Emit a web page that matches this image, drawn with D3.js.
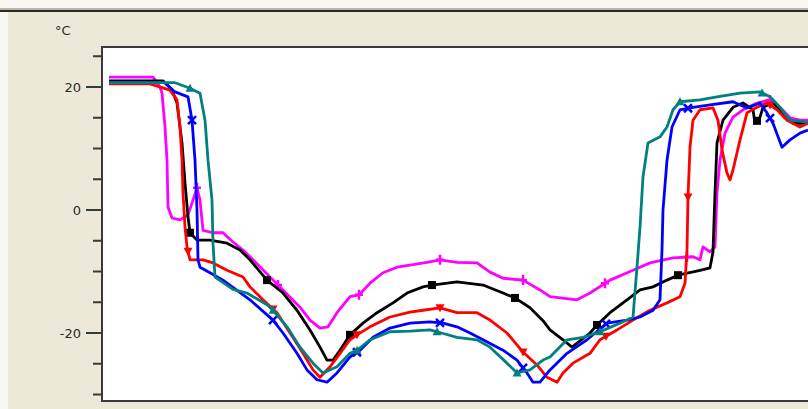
<!DOCTYPE html>
<html>
<head>
<meta charset="utf-8">
<script src="https://cdn.jsdelivr.net/npm/d3@7"></script>
<style>
  body { margin: 0; background: #ece9d8; }
  svg { display: block; }
  .axis text { font-family: Tahoma, "DejaVu Sans", sans-serif; font-size: 13px; fill: #2a2a2a; }
</style>
</head>
<body>
<div id="target"></div>
<script>
// time (arbitrary units) and temperature in °C
const blackT = [7,61,70,75,80,83,86,88,95,108,125,138,148,165,181,195,208,218,225,231,238,248,261,275,291,305,321,330,355,381,401,413,428,441,448,461,470,488,495,508,525,538,551,565,576,598,608,611,613,615,621,631,641,651,653,658,661,671,685,691,706];
const blackV = [21.0,21.0,19.5,17.4,10.9,4.4,-1.1,-3.7,-4.9,-4.9,-5.4,-6.5,-8.1,-11.4,-13.5,-16.3,-19.5,-22.3,-24.4,-24.4,-22.8,-20.3,-18.4,-16.7,-15.1,-13.5,-12.5,-12.2,-11.7,-12.2,-13.5,-14.3,-15.9,-18.0,-19.5,-21.1,-22.3,-20.0,-18.7,-16.7,-14.6,-13.0,-12.5,-11.4,-10.6,-9.8,-9.4,-6.8,2.8,10.9,14.6,16.7,17.4,16.3,14.1,15.1,16.7,17.4,15.1,14.1,14.1];

const redT = [7,48,68,75,78,80,81,83,85,88,101,111,125,141,148,161,175,188,201,211,218,228,238,248,255,268,288,308,321,338,355,375,388,405,421,435,445,455,461,471,488,498,515,531,548,565,578,583,585,586,588,591,598,611,616,620,625,628,631,638,645,655,665,675,685,698,706];
const redV = [20.5,20.5,19.5,17.9,13.5,8.1,2.8,-2.8,-6.0,-8.1,-8.1,-8.6,-9.8,-10.9,-12.5,-14.6,-16.7,-20.0,-23.3,-26.0,-27.2,-25.5,-23.3,-21.1,-20.3,-19.0,-17.4,-16.6,-16.3,-15.9,-16.7,-16.7,-17.9,-20.0,-23.1,-25.2,-27.2,-28.0,-26.5,-24.9,-23.3,-21.1,-19.5,-17.9,-16.3,-15.1,-14.1,-11.9,-6.5,2.1,10.2,14.6,16.3,16.6,14.6,9.8,6.0,4.9,6.5,11.4,15.8,16.7,17.4,16.3,14.6,13.5,14.1];

const blueT = [7,63,73,86,90,93,95,96,98,108,121,148,171,181,195,205,215,225,235,248,258,271,288,308,328,341,355,368,381,401,415,425,431,438,448,465,485,505,525,538,551,558,560,561,565,570,578,591,608,631,645,658,665,671,680,688,698,706];
const blueV = [20.7,20.7,19.2,18.4,14.6,8.1,0.0,-8.1,-9.3,-10.2,-11.4,-14.6,-17.9,-20.0,-23.3,-26.0,-27.6,-28.0,-26.5,-23.9,-22.8,-20.7,-19.2,-18.4,-18.2,-18.4,-19.0,-20.0,-21.1,-22.8,-24.4,-26.5,-28.0,-28.0,-26.0,-23.3,-21.1,-18.4,-17.9,-17.4,-16.3,-14.6,-6.5,0.0,8.1,13.5,16.3,16.7,17.1,17.6,16.6,17.4,15.8,14.1,10.2,11.4,12.5,13.0];

const tealT = [7,73,88,98,103,106,110,111,113,131,145,165,171,185,198,211,221,235,248,255,268,288,308,328,335,355,375,388,405,415,428,441,448,465,481,498,518,531,535,538,541,546,558,565,571,578,598,615,638,658,668,678,688,706];
const tealV = [20.7,20.7,19.8,19.0,14.6,8.1,1.6,-5.4,-10.9,-12.9,-13.5,-15.4,-16.3,-19.0,-22.3,-24.9,-26.5,-25.5,-23.3,-22.8,-21.1,-19.8,-19.7,-19.5,-19.8,-20.7,-21.1,-22.3,-24.9,-26.5,-26.0,-24.4,-23.9,-21.1,-20.7,-19.8,-18.4,-17.4,-9.3,-2.8,5.4,10.9,11.9,13.5,16.3,17.6,17.9,18.4,19.0,19.2,18.4,16.7,14.6,14.3];

const magentaT = [7,51,58,60,63,65,66,70,78,86,91,95,98,101,111,121,131,141,151,168,181,198,208,218,226,235,248,257,268,281,295,311,325,338,355,375,388,401,421,438,448,475,488,508,531,548,571,591,598,601,608,613,615,618,623,631,641,655,668,678,688,698,706];
const magentaV = [21.6,21.6,20.0,19.0,13.5,8.1,0.5,-1.3,-1.6,-0.8,1.6,3.6,1.6,-3.3,-3.7,-3.7,-5.2,-6.5,-8.1,-10.9,-13.0,-15.8,-17.9,-19.2,-19.0,-16.7,-14.1,-13.8,-11.9,-10.2,-9.3,-8.9,-8.5,-8.1,-8.5,-8.6,-10.1,-11.1,-11.4,-13.0,-14.1,-14.6,-13.5,-11.4,-9.8,-8.6,-7.8,-7.6,-8.1,-6.0,-6.8,-6.0,2.8,8.1,12.5,15.1,16.3,17.4,17.9,16.7,15.0,14.6,14.6];

// where the symbols sit (time units)
const blackMarks = [88,165,248,330,413,495,576,655];
const redMarks = [86,171,255,338,421,504,586,668];
const blueMarks = [90,171,255,338,421,504,586,668];
const tealMarks = [88,171,255,335,415,498,578,660];
const magentaMarks = [95,176,257,338,421,503,585,668];

const yTicks = [-20, 0, 20];
const unitLabel = "°C";

function chart() {
  const width = 808,
    height = 409;

  let svg = d3.select("#target").append("svg")
    .attr("width", width)
    .attr("height", height);

  // window chrome at the top
  svg.append("rect").attr("x", 0).attr("y", 0).attr("width", width).attr("height", 8).attr("fill", "#f7f6f0");
  svg.append("rect").attr("x", 0).attr("y", 8).attr("width", width).attr("height", 2).attr("fill", "#b8b6a8");
  svg.append("rect").attr("x", 0).attr("y", 10).attr("width", width).attr("height", 2).attr("fill", "#2a2a2a");
  svg.append("rect").attr("x", 0).attr("y", 12).attr("width", 8).attr("height", height - 12).attr("fill", "#f7f6f0");

  let x = d3.scaleLinear()
    .domain([0, 706])
    .range([102, 808]);
  let y = d3.scaleLinear()
    .domain([-20, 20])
    .range([333, 87]);

  const plotTop = 47, plotBottom = 401, plotLeft = 102;

  svg.append("rect")
    .attr("x", plotLeft)
    .attr("y", plotTop)
    .attr("width", width - plotLeft + 5)
    .attr("height", plotBottom - plotTop)
    .attr("fill", "#fff")
    .attr("stroke", "#3a3a3a")
    .attr("stroke-width", 2);

  svg.append("clipPath").attr("id", "clip")
    .append("rect")
    .attr("x", plotLeft + 1)
    .attr("y", plotTop + 1)
    .attr("width", width - plotLeft)
    .attr("height", plotBottom - plotTop - 2);

  // y axis: minor ticks every 5, labels every 20
  let minor = d3.range(-30, 26, 5);
  let axisG = svg.append("g").attr("class", "axis");
  axisG.selectAll("line")
    .data(minor)
    .enter().append("line")
    .attr("x1", (d) => {
      return yTicks.includes(d) ? plotLeft - 16 : plotLeft - 9;
    })
    .attr("x2", plotLeft)
    .attr("y1", (d) => y(d))
    .attr("y2", (d) => y(d))
    .attr("stroke", "#3a3a3a")
    .attr("stroke-width", 2);
  axisG.selectAll("text")
    .data(yTicks)
    .enter().append("text")
    .attr("x", plotLeft - 21)
    .attr("y", (d) => y(d))
    .attr("dy", "0.36em")
    .attr("text-anchor", "end")
    .text((d) => d);
  axisG.append("text")
    .attr("x", 55)
    .attr("y", 35)
    .text(unitLabel);

  const series = [
    { t: magentaT, v: magentaV, marks: magentaMarks, color: "#ff00ff", sym: "plus" },
    { t: blackT, v: blackV, marks: blackMarks, color: "#000000", sym: "square" },
    { t: redT, v: redV, marks: redMarks, color: "#ff0000", sym: "down" },
    { t: blueT, v: blueV, marks: blueMarks, color: "#0000ff", sym: "x" },
    { t: tealT, v: tealV, marks: tealMarks, color: "#008080", sym: "up" }
  ];

  let line = d3.line()
    .x((d) => x(d[0]))
    .y((d) => y(d[1]));

  let plot = svg.append("g").attr("clip-path", "url(#clip)");

  series.forEach((s) => {
    let pts = s.t.map((t, i) => [t, s.v[i]]);
    plot.append("path")
      .datum(pts)
      .attr("fill", "none")
      .attr("stroke", s.color)
      .attr("stroke-width", 2.8)
      .attr("stroke-linejoin", "round")
      .attr("d", line);

    let interp = (t) => {
      let i = d3.bisectLeft(s.t, t);
      if (i <= 0) return s.v[0];
      if (i >= s.t.length) return s.v[s.v.length - 1];
      let t0 = s.t[i - 1], t1 = s.t[i];
      return s.v[i - 1] + (s.v[i] - s.v[i - 1]) * (t - t0) / (t1 - t0);
    };

    let g = plot.selectAll(null)
      .data(s.marks.map((t) => [t, interp(t)]))
      .enter().append("g")
      .attr("transform", (d) => `translate(${x(d[0])},${y(d[1])})`);

    if (s.sym === "square") {
      g.append("rect").attr("x", -4).attr("y", -4).attr("width", 8).attr("height", 8).attr("fill", s.color);
    } else if (s.sym === "down") {
      g.append("path").attr("d", "M-4.5,-3.5L4.5,-3.5L0,4.5Z").attr("fill", s.color);
    } else if (s.sym === "up") {
      g.append("path").attr("d", "M-4.5,3.5L4.5,3.5L0,-4.5Z").attr("fill", s.color);
    } else if (s.sym === "x") {
      g.append("path").attr("d", "M-4,-4L4,4M-4,4L4,-4").attr("stroke", s.color).attr("stroke-width", 2.5);
    } else {
      g.append("path").attr("d", "M0,-5L0,5M-4,0L4,0").attr("stroke", s.color).attr("stroke-width", 2.5);
    }
  });
}
chart();
</script>
</body>
</html>
